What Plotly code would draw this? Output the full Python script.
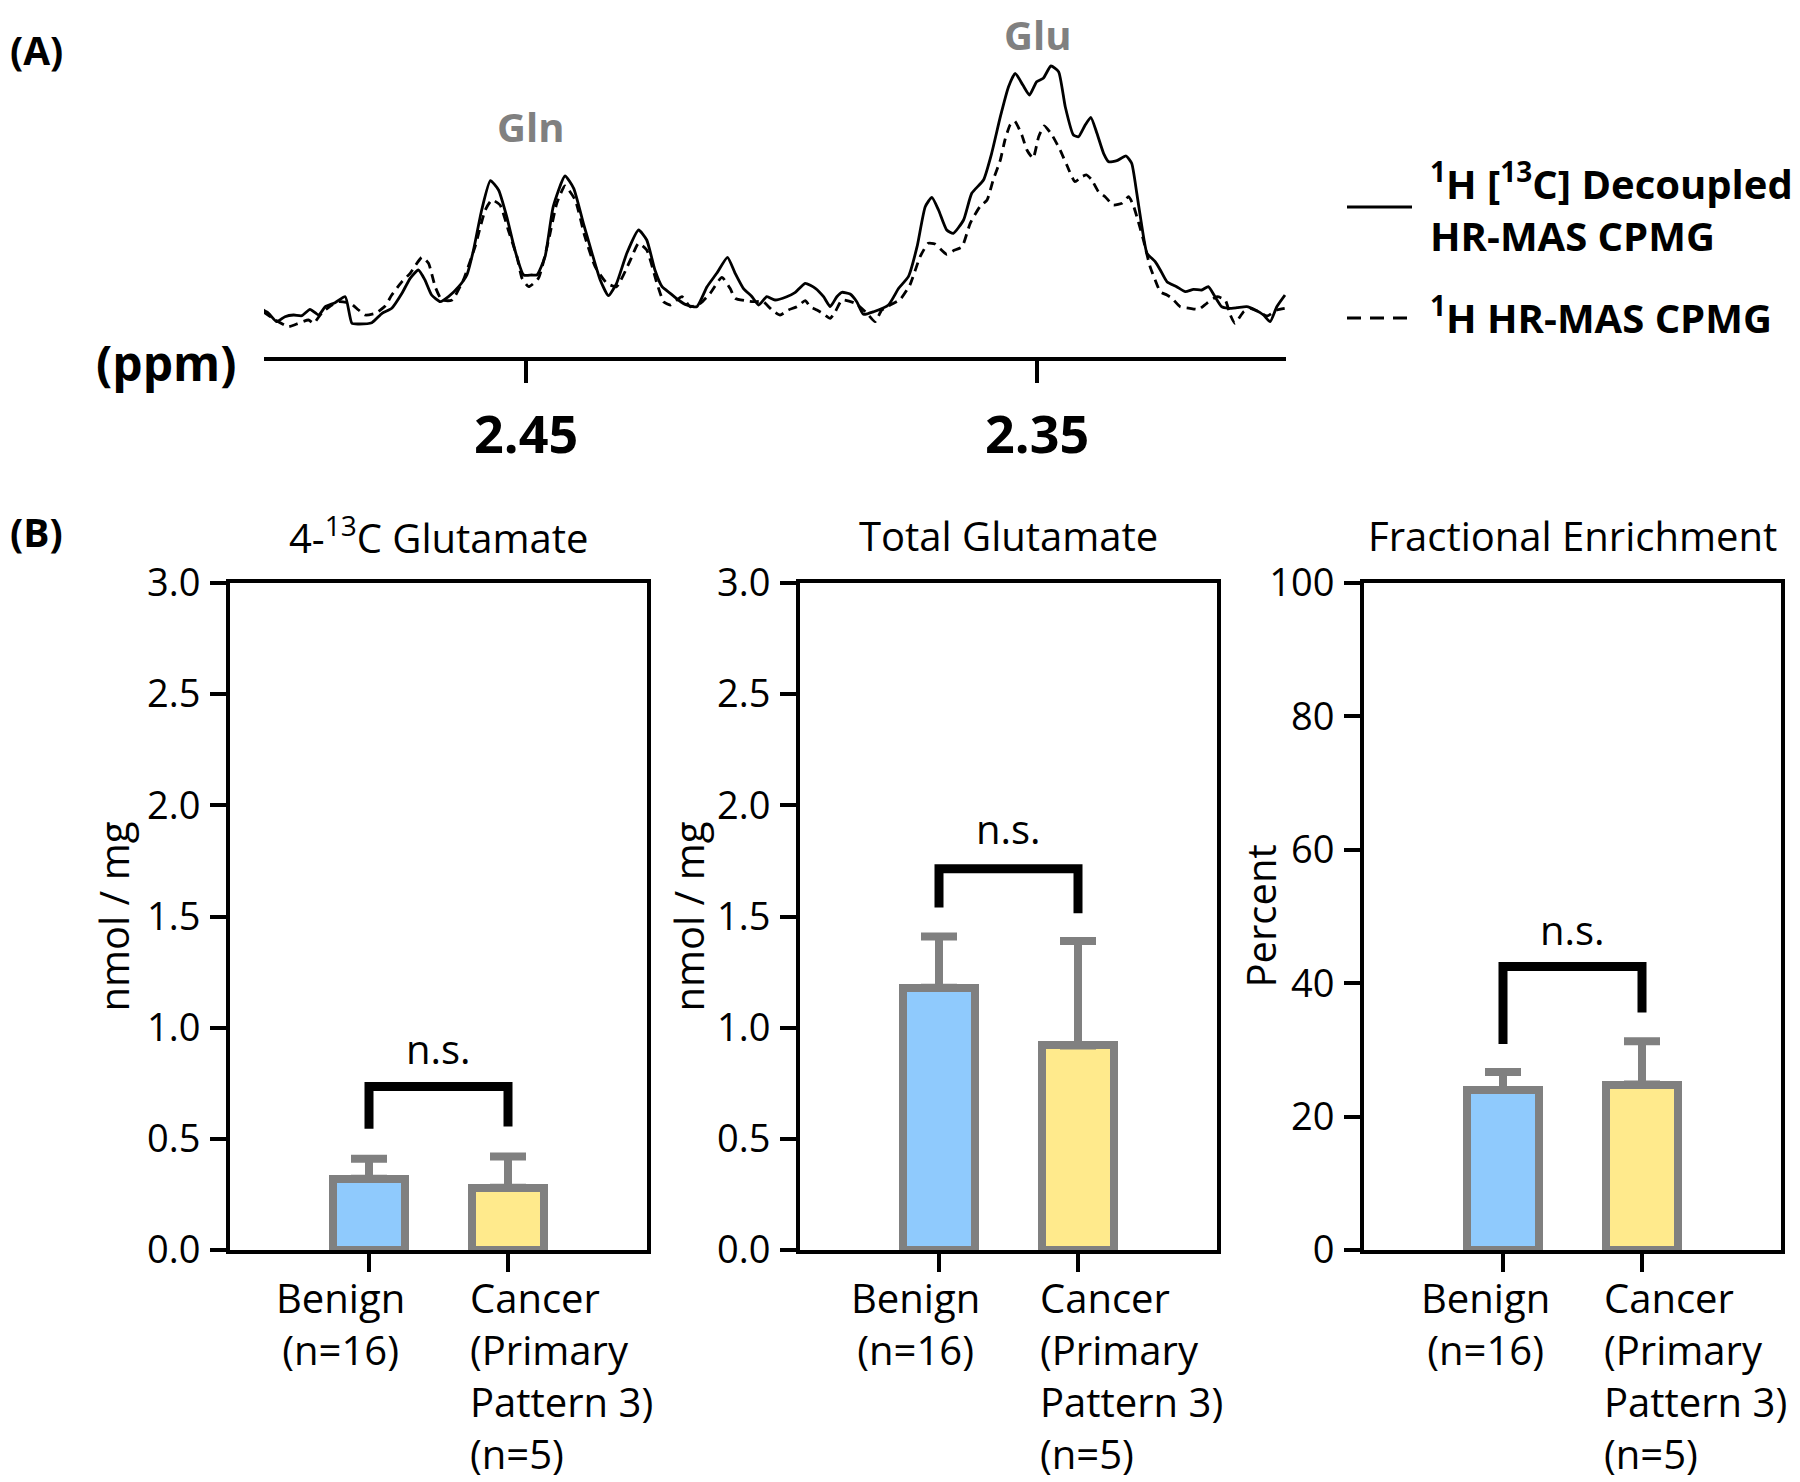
import plotly.graph_objects as go

# ---------------- Panel A: spectrum data (ppm, arbitrary intensity) ----------------
ppm_solid = [2.5017, 2.5004, 2.4988, 2.4972, 2.4955, 2.4939, 2.4923, 2.4906, 2.4893, 2.4874,
             2.4854, 2.4841, 2.4828, 2.4802, 2.4782, 2.4763, 2.4743, 2.4727, 2.4711, 2.4698,
             2.4685, 2.4668, 2.4652, 2.4632, 2.4616, 2.4603, 2.4587, 2.4570, 2.4554, 2.4538,
             2.4522, 2.4505, 2.4489, 2.4479, 2.4463, 2.4447, 2.4424, 2.4407, 2.4388, 2.4371,
             2.4355, 2.4339, 2.4323, 2.4303, 2.4280, 2.4264, 2.4248, 2.4234, 2.4218, 2.4202,
             2.4186, 2.4166, 2.4146, 2.4127, 2.4106, 2.4091, 2.4075, 2.4058, 2.4045, 2.4029,
             2.4013, 2.3990, 2.3974, 2.3954, 2.3934, 2.3918, 2.3905, 2.3892, 2.3882, 2.3866,
             2.3853, 2.3840, 2.3820, 2.3791, 2.3771, 2.3752, 2.3735, 2.3719, 2.3706, 2.3693,
             2.3677, 2.3664, 2.3644, 2.3628, 2.3605, 2.3589, 2.3572, 2.3556, 2.3543, 2.3528,
             2.3515, 2.3501, 2.3488, 2.3473, 2.3458, 2.3445, 2.3429, 2.3419, 2.3406, 2.3395,
             2.3383, 2.3370, 2.3360, 2.3344, 2.3326, 2.3315, 2.3305, 2.3295, 2.3285, 2.3269,
             2.3259, 2.3246, 2.3227, 2.3210, 2.3194, 2.3178, 2.3165, 2.3152, 2.3139, 2.3126,
             2.3109, 2.3090, 2.3073, 2.3057, 2.3044, 2.3031, 2.3015]
int_solid = [47.7, 43.7, 35.3, 40.3, 42.0, 41.3, 47.7, 42.0, 50.3, 54.3,
             60.3, 33.7, 33.0, 34.3, 43.7, 48.7, 63.7, 78.7, 87.0, 77.0,
             62.0, 55.3, 60.3, 70.3, 82.0, 107.0, 147.0, 176.3, 167.0, 140.3,
             107.0, 82.0, 82.0, 82.0, 100.3, 150.3, 181.0, 168.7, 133.7, 103.7,
             77.0, 61.3, 73.7, 103.7, 127.0, 117.0, 87.0, 70.3, 63.7, 57.0,
             52.0, 50.3, 70.3, 83.7, 99.7, 83.7, 68.7, 60.3, 52.0, 60.3,
             57.0, 60.3, 64.3, 73.7, 68.7, 60.3, 50.3, 60.3, 64.7, 63.0,
             55.3, 42.7, 45.3, 52.0, 68.7, 80.3, 110.3, 150.3, 159.7, 147.0,
             127.0, 123.7, 137.0, 163.7, 177.0, 203.7, 240.3, 270.3, 283.7, 272.0,
             262.0, 275.3, 278.7, 291.0, 285.3, 250.3, 222.0, 220.3, 232.0, 239.7,
             223.7, 203.7, 195.3, 196.3, 201.0, 193.7, 163.7, 130.3, 103.7, 95.3,
             87.0, 75.3, 70.3, 65.3, 67.7, 67.0, 70.3, 60.3, 50.3, 48.7,
             49.3, 50.3, 47.0, 42.0, 35.3, 50.3, 62.0]

ppm_dashed = [2.5014, 2.4991, 2.4965, 2.4949, 2.4926, 2.4916, 2.4900, 2.4880, 2.4867, 2.4844,
              2.4828, 2.4815, 2.4795, 2.4776, 2.4763, 2.4743, 2.4727, 2.4704, 2.4691, 2.4678,
              2.4665, 2.4645, 2.4623, 2.4600, 2.4580, 2.4567, 2.4551, 2.4535, 2.4518, 2.4508,
              2.4495, 2.4476, 2.4456, 2.4440, 2.4424, 2.4404, 2.4385, 2.4365, 2.4342, 2.4323,
              2.4296, 2.4280, 2.4264, 2.4244, 2.4231, 2.4218, 2.4195, 2.4179, 2.4159, 2.4140,
              2.4117, 2.4101, 2.4091, 2.4071, 2.4055, 2.4036, 2.4019, 2.4003, 2.3987, 2.3970,
              2.3954, 2.3944, 2.3931, 2.3918, 2.3905, 2.3895, 2.3882, 2.3856, 2.3833, 2.3817,
              2.3804, 2.3768, 2.3749, 2.3729, 2.3713, 2.3700, 2.3677, 2.3664, 2.3647, 2.3631,
              2.3612, 2.3598, 2.3586, 2.3572, 2.3563, 2.3553, 2.3544, 2.3530, 2.3520, 2.3508,
              2.3497, 2.3486, 2.3471, 2.3455, 2.3442, 2.3426, 2.3413, 2.3403, 2.3393, 2.3380,
              2.3367, 2.3351, 2.3334, 2.3321, 2.3312, 2.3302, 2.3292, 2.3279, 2.3269, 2.3259,
              2.3246, 2.3236, 2.3220, 2.3201, 2.3184, 2.3168, 2.3148, 2.3132, 2.3122, 2.3113,
              2.3096, 2.3083, 2.3067, 2.3050, 2.3031, 2.3015]
int_dashed = [45.0, 37.0, 30.3, 33.0, 37.0, 33.7, 44.0, 52.0, 55.3, 53.7,
              47.0, 42.0, 43.7, 51.0, 62.0, 75.3, 83.7, 99.7, 93.7, 70.3,
              57.0, 57.0, 77.0, 110.3, 147.0, 157.0, 152.0, 127.0, 100.3, 78.7,
              70.3, 78.7, 117.0, 153.7, 171.0, 157.0, 120.3, 90.3, 73.7, 70.3,
              97.0, 113.7, 107.0, 73.7, 55.3, 52.0, 60.3, 50.3, 53.7, 63.7,
              79.7, 68.7, 58.7, 56.3, 55.3, 55.3, 47.0, 42.0, 47.0, 50.3,
              56.3, 50.3, 47.0, 43.0, 38.7, 45.3, 57.0, 53.7, 43.7, 35.3,
              47.0, 57.7, 72.0, 100.3, 113.7, 113.0, 102.7, 106.3, 110.3, 133.7,
              150.3, 157.0, 177.0, 197.0, 217.0, 232.0, 236.0, 222.0, 207.0, 198.7,
              220.3, 231.0, 222.0, 207.0, 192.0, 175.3, 180.3, 182.0, 177.0, 165.3,
              160.3, 152.0, 153.7, 160.3, 152.0, 135.3, 117.0, 90.3, 77.0, 65.3,
              62.0, 58.7, 50.3, 48.7, 47.7, 53.7, 60.3, 57.0, 42.0, 33.7,
              45.3, 48.7, 45.3, 41.0, 47.0, 48.7]

ppm_ticks = [2.45, 2.35]
ppm_ticktext = ["2.45", "2.35"]
peak_labels = ["Gln", "Glu"]
peak_label_ppm = [2.4492, 2.3500]
peak_label_int = [231, 323]
legend_labels = ["<sup>1</sup>H [<sup>13</sup>C] Decoupled<br>HR-MAS CPMG",
                 "<sup>1</sup>H HR-MAS CPMG"]

# ---------------- Panel B: bar data ----------------
categories = ["Benign", "Cancer"]
category_labels = ["Benign<br>(n=16)", "Cancer<br>(Primary<br>Pattern 3)<br>(n=5)"]
panel_titles = ["4-<sup>13</sup>C Glutamate", "Total Glutamate", "Fractional Enrichment"]
panel_ytitles = ["nmol / mg", "nmol / mg", "Percent"]

glu13c_mean = [0.32, 0.28]
glu13c_sd = [0.09, 0.14]
totglu_mean = [1.18, 0.92]
totglu_sd = [0.23, 0.47]
fe_mean = [24.0, 24.8]
fe_sd = [2.7, 6.5]

ns_top = [0.735, 1.715, 42.5]
ns_left = [0.545, 1.54, 30.9]
ns_right = [0.555, 1.515, 35.6]
ns_text_y = [0.905, 1.895, 48.0]

y_ranges = [[0, 3.0], [0, 3.0], [0, 100]]
y_dticks = [0.5, 0.5, 20]
y_formats = [".1f", ".1f", "d"]

FONT = "Open Sans"
BLUE = "#8FCAFD"
YELLOW = "#FFEA8C"
GRAY = "#808080"

# the page places the figure 8 px in from the top-left corner
OFF = 8
W, H = 1800 - OFF, 1482 - OFF

def px_x(p):
    return (p - OFF) / W

def px_y(p):
    return 1 - (p - OFF) / H

fig = go.Figure()

# spectrum
fig.add_trace(go.Scatter(x=ppm_solid, y=int_solid, mode="lines",
                         line=dict(color="black", width=2.8, shape="spline", smoothing=0.5),
                         xaxis="x", yaxis="y", showlegend=False, hoverinfo="skip"))
fig.add_trace(go.Scatter(x=ppm_dashed, y=int_dashed, mode="lines",
                         line=dict(color="black", width=2.8, dash="9px,6px", shape="spline", smoothing=0.5),
                         xaxis="x", yaxis="y", showlegend=False, hoverinfo="skip"))

fig.update_layout(
    xaxis=dict(domain=[px_x(264), px_x(1286)], range=[2.5013, 2.3013], anchor="y",
               automargin=False,
               showline=True, linewidth=4, linecolor="black", showgrid=False, zeroline=False,
               ticks="outside", ticklen=22, tickwidth=4, tickcolor="black",
               tickvals=ppm_ticks, ticktext=ppm_ticktext, ticklabelstandoff=8,
               tickfont=dict(family=FONT, size=52, color="black", weight="bold")),
    yaxis=dict(domain=[px_y(357), 1], range=[0, 357 - OFF], anchor="x", visible=False,
               automargin=False),
)

annotations = []
shapes = []

for lab, xp, yi in zip(peak_labels, peak_label_ppm, peak_label_int):
    annotations.append(dict(text=lab, x=xp, y=yi, xref="x", yref="y", showarrow=False,
                            xanchor="center", yanchor="middle",
                            font=dict(family=FONT, size=40, color=GRAY, weight="bold")))

annotations.append(dict(text="(ppm)", x=px_x(166), y=px_y(363), xref="paper", yref="paper",
                        showarrow=False, xanchor="center", yanchor="middle",
                        font=dict(family=FONT, size=48, color="black", weight="bold")))
annotations.append(dict(text="(A)", x=0, y=px_y(50), xref="paper", yref="paper",
                        showarrow=False, xanchor="left", yanchor="middle",
                        font=dict(family=FONT, size=39, color="black", weight="bold")))
annotations.append(dict(text="(B)", x=0, y=px_y(531), xref="paper", yref="paper",
                        showarrow=False, xanchor="left", yanchor="middle",
                        font=dict(family=FONT, size=39, color="black", weight="bold")))

# legend (panel A)
annotations.append(dict(text=legend_labels[0], x=px_x(1428), y=px_y(207), xref="paper", yref="paper",
                        showarrow=False, xanchor="left", yanchor="middle", align="left",
                        font=dict(family=FONT, size=40, color="black", weight="bold")))
annotations.append(dict(text=legend_labels[1], x=px_x(1428), y=px_y(315), xref="paper", yref="paper",
                        showarrow=False, xanchor="left", yanchor="middle", align="left",
                        font=dict(family=FONT, size=40, color="black", weight="bold")))
shapes.append(dict(type="line", xref="paper", yref="paper", x0=px_x(1347), x1=px_x(1412),
                   y0=px_y(207), y1=px_y(207), line=dict(color="black", width=2.8)))
shapes.append(dict(type="line", xref="paper", yref="paper", x0=px_x(1347), x1=px_x(1412),
                   y0=px_y(318), y1=px_y(318), line=dict(color="black", width=2.8, dash="14px,9px")))

# ---------------- bar panels ----------------
means = [glu13c_mean, totglu_mean, fe_mean]
sds = [glu13c_sd, totglu_sd, fe_sd]
x_domains = [[px_x(230), px_x(647)], [px_x(800), px_x(1217)], [px_x(1364), px_x(1781)]]
ytitle_shift = [-117, -112, -104]
benign_shift = [-29, -24, -18]
y_domain = [px_y(1250), px_y(583)]

for i in range(3):
    xa = f"x{i + 2}"
    ya = f"y{i + 2}"
    fig.add_trace(go.Bar(x=categories, y=means[i], width=0.52,
                         marker=dict(color=[BLUE, YELLOW], line=dict(color=GRAY, width=8)),
                         error_y=dict(type="data", array=sds[i], arrayminus=[0, 0], symmetric=False,
                                      color=GRAY, thickness=8, width=18),
                         xaxis=xa, yaxis=ya, showlegend=False, hoverinfo="skip"))
    fig.add_trace(go.Scatter(x=[categories[0], categories[0], categories[1], categories[1]],
                             y=[ns_left[i], ns_top[i], ns_top[i], ns_right[i]],
                             mode="lines", line=dict(color="black", width=9),
                             xaxis=xa, yaxis=ya, showlegend=False, hoverinfo="skip"))
    fig.update_layout(**{
        f"xaxis{i + 2}": dict(domain=x_domains[i], anchor=ya, type="category",
                              categoryorder="array", categoryarray=categories, range=[-1, 2],
                              automargin=False,
                              showline=True, mirror=True, linewidth=4, linecolor="black",
                              ticks="outside", ticklen=18, tickwidth=4, tickcolor="black",
                              showticklabels=False, showgrid=False, zeroline=False),
        f"yaxis{i + 2}": dict(domain=y_domain, anchor=xa, range=y_ranges[i], dtick=y_dticks[i],
                              tick0=0, tickformat=y_formats[i], automargin=False,
                              showline=True, mirror=True, linewidth=4, linecolor="black",
                              ticks="outside", ticklen=16, tickwidth=4, tickcolor="black",
                              ticklabelstandoff=2,
                              tickfont=dict(family=FONT, size=38, color="black"),
                              showgrid=False, zeroline=False),
    })
    # panel title
    annotations.append(dict(text=panel_titles[i], x=0.5, y=1, xref=f"{xa} domain", yref=f"{ya} domain",
                            yshift=47, showarrow=False, xanchor="center", yanchor="middle",
                            font=dict(family=FONT, size=40, color="black")))
    # y title
    annotations.append(dict(text=panel_ytitles[i], x=0, y=0.5, xref=f"{xa} domain", yref=f"{ya} domain",
                            xshift=ytitle_shift[i], textangle=-90, showarrow=False,
                            xanchor="center", yanchor="middle",
                            font=dict(family=FONT, size=40, color="black")))
    # n.s.
    annotations.append(dict(text="n.s.", x=0.5, y=ns_text_y[i], xref=xa, yref=ya,
                            showarrow=False, xanchor="center", yanchor="middle",
                            font=dict(family=FONT, size=40, color="black")))
    # category labels
    annotations.append(dict(text=category_labels[0], x=categories[0], y=0, xref=xa, yref=f"{ya} domain",
                            xshift=benign_shift[i], yshift=-18, showarrow=False,
                            xanchor="center", yanchor="top", align="center",
                            font=dict(family=FONT, size=40, color="black")))
    annotations.append(dict(text=category_labels[1], x=categories[1], y=0, xref=xa, yref=f"{ya} domain",
                            xshift=-40, yshift=-18, showarrow=False, xanchor="left", yanchor="top",
                            align="left", font=dict(family=FONT, size=40, color="black")))

fig.update_layout(
    template="none",
    width=W, height=H, margin=dict(l=0, r=0, t=0, b=0, pad=0), autosize=False,
    paper_bgcolor="white", plot_bgcolor="white",
    font=dict(family=FONT, color="black"),
    annotations=annotations, shapes=shapes,
    bargap=0, showlegend=False,
)

fig.write_html("out.html")
